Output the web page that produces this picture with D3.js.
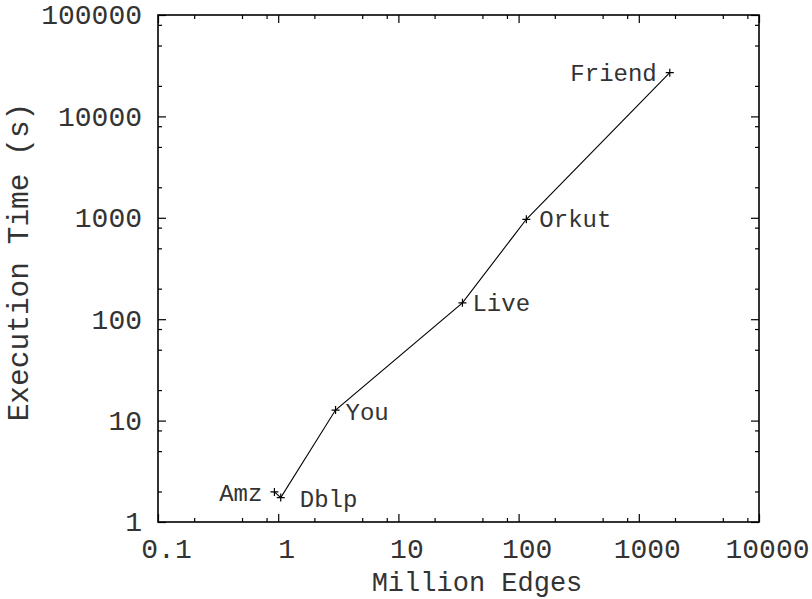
<!DOCTYPE html>
<html>
<head>
<meta charset="utf-8">
<script src="https://cdn.jsdelivr.net/npm/d3@7"></script>
<style>
  html, body { margin: 0; padding: 0; background: #fff; }
  svg { display: block; }
  text { font-family: "Liberation Mono", "Courier New", monospace; fill: #333; }
</style>
</head>
<body>
<svg id="chart" width="812" height="599"></svg>
<script>
// Graph datasets: edge count (millions) vs. execution time (seconds)
const names = ["Amz", "Dblp", "You", "Live", "Orkut", "Friend"];
const edges = [0.93, 1.05, 3.0, 34.1, 116, 1810];
const seconds = [1.98, 1.74, 12.7, 145, 967, 27000];

const xTickValues = [0.1, 1, 10, 100, 1000, 10000];
const yTickValues = [1, 10, 100, 1000, 10000, 100000];
const xTickLabels = ["0.1", "1", "10", "100", "1000", "10000"];
const yTickLabels = ["1", "10", "100", "1000", "10000", "100000"];

// minor ticks at 2, 5, 8 of each decade
function minors(lo, hi) {
  const out = [];
  for (let d = lo; d < hi; d *= 10) [2, 5, 8].forEach(m => out.push(d * m));
  return out;
}

const svg = d3.select("#chart");
const L = 158, R = 759, T = 15, B = 522;

const x = d3.scaleLog().domain([0.1, 10000]).range([L, R]);
const y = d3.scaleLog().domain([1, 100000]).range([B, T]);

const tickFont = 28, labelFont = 24;

// bottom axis
const gB = svg.append("g").attr("transform", `translate(0,${B})`);
gB.call(d3.axisBottom(x).tickValues(xTickValues).tickSize(-8)
  .tickFormat((d, i) => xTickLabels[i]));
gB.selectAll("text").attr("y", 26).attr("dy", "0.35em").attr("dx", 8)
  .style("font-size", tickFont + "px");
gB.append("g").call(d3.axisBottom(x).tickValues(minors(0.1, 10000)).tickSize(-4).tickFormat(""));

// top axis
const gT = svg.append("g").attr("transform", `translate(0,${T})`);
gT.call(d3.axisTop(x).tickValues(xTickValues).tickSize(-8).tickFormat(""));
gT.append("g").call(d3.axisTop(x).tickValues(minors(0.1, 10000)).tickSize(-4).tickFormat(""));

// left axis
const gL = svg.append("g").attr("transform", `translate(${L},0)`);
gL.call(d3.axisLeft(y).tickValues(yTickValues).tickSize(-8).tickPadding(16)
  .tickFormat((d, i) => yTickLabels[i]));
gL.selectAll("text").style("font-size", tickFont + "px");
gL.append("g").call(d3.axisLeft(y).tickValues(minors(1, 100000)).tickSize(-4).tickFormat(""));

// right axis
const gR = svg.append("g").attr("transform", `translate(${R},0)`);
gR.call(d3.axisRight(y).tickValues(yTickValues).tickSize(-8).tickFormat(""));
gR.append("g").call(d3.axisRight(y).tickValues(minors(1, 100000)).tickSize(-4).tickFormat(""));

svg.selectAll(".domain").remove();
svg.selectAll(".tick line").attr("stroke", "#000").attr("stroke-width", 1.2);
svg.selectAll(".tick text").attr("fill", null).attr("font-family", null);

// frame
svg.append("rect").attr("x", L).attr("y", T).attr("width", R - L).attr("height", B - T)
  .attr("fill", "none").attr("stroke", "#000").attr("stroke-width", 1.6);

// axis titles
svg.append("text").attr("x", 477).attr("y", 582).attr("dy", "0.35em")
  .attr("text-anchor", "middle").style("font-size", "27px").text("Million Edges");
svg.append("text").attr("transform", "translate(18,262) rotate(-90)")
  .attr("dy", "0.35em").attr("text-anchor", "middle").style("font-size", "29.5px")
  .text("Execution Time (s)");

// series line and markers
const pts = names.map((n, i) => ({ name: n, x: edges[i], y: seconds[i] }));
svg.append("path").datum(pts)
  .attr("d", d3.line().x(d => x(d.x)).y(d => y(d.y)))
  .attr("fill", "none").attr("stroke", "#000").attr("stroke-width", 1.1);

svg.selectAll(".pt").data(pts).join("path").attr("class", "pt")
  .attr("transform", d => `translate(${x(d.x)},${y(d.y)})`)
  .attr("d", "M-4,0H4M0,-4V4").attr("stroke", "#000").attr("stroke-width", 1.2);

// point label placement (dx, baseline dy, anchor)
const place = {
  Amz: [-12, 9, "end"], Dblp: [19, 9, "start"], You: [10, 10, "start"],
  Live: [10, 8, "start"], Orkut: [13, 8, "start"], Friend: [-13, 8, "end"]
};
svg.selectAll(".lbl").data(pts).join("text").attr("class", "lbl")
  .attr("x", d => x(d.x) + place[d.name][0])
  .attr("y", d => y(d.y) + place[d.name][1])
  .attr("text-anchor", d => place[d.name][2])
  .style("font-size", labelFont + "px")
  .text(d => d.name);
</script>
</body>
</html>
